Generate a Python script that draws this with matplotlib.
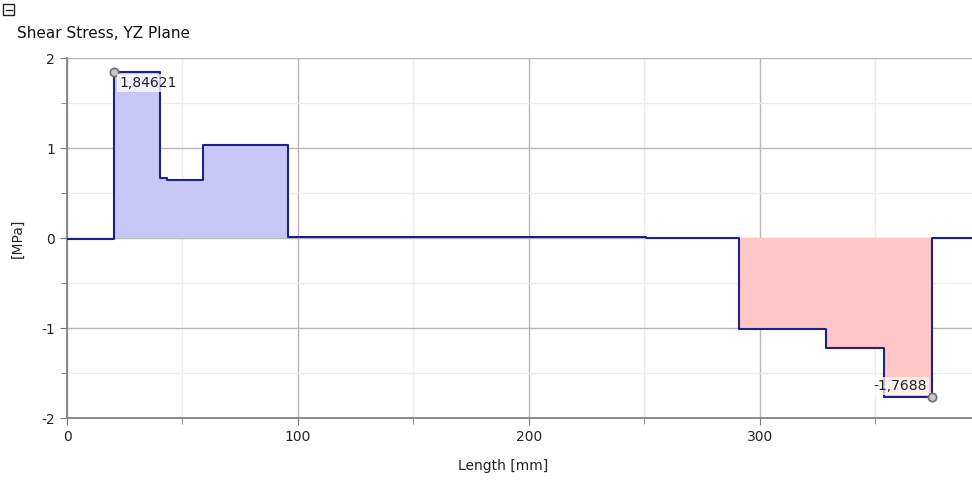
import numpy as np
import matplotlib
matplotlib.use("Agg")
import matplotlib.pyplot as plt
from matplotlib.patches import Rectangle
from matplotlib.lines import Line2D
from matplotlib.ticker import MultipleLocator

# Data (step function: segment edges and values)
edges = [0, 20.3, 40.3, 43.3, 58.9, 95.7, 250.6, 290.9, 328.6, 353.7, 374.5, 392]
values = [-0.015, 1.84621, 0.67, 0.65, 1.03, 0.01, 0.0, -1.01, -1.22, -1.7688, 0.0]
max_point = (20.3, 1.84621)
min_point = (374.5, -1.7688)
max_label = "1,84621"
min_label = "-1,7688"
x_ticks = [0, 100, 200, 300]
y_ticks = [-2, -1, 0, 1, 2]

plt.rcParams['font.family'] = ['DejaVu Sans']
plt.rcParams['axes.unicode_minus'] = False
fig = plt.figure(figsize=(9.72, 4.8), dpi=100)
ax = fig.add_axes([67/972, 1-418/480, 1-67/972, 360/480])

x = np.array(edges)
v = np.array(values + [values[-1]])

pos = np.where(v > 0.05, v, 0)
neg = np.where(v < -0.05, v, 0)
ax.fill_between(x, pos, 0, step='post', color='#c8c8f8', lw=0, zorder=2)
ax.fill_between(x, neg, 0, step='post', color='#ffc6c6', lw=0, zorder=2)
ax.step(x, v, where='post', color='#20208a', lw=1.5, zorder=3)

ax.plot(*max_point, 'o', ms=6, mfc='#c8c8c8', mec='#6e6e6e', mew=1.2, zorder=5)
ax.plot(*min_point, 'o', ms=6, mfc='#c8c8c8', mec='#6e6e6e', mew=1.2, zorder=5)

bbox = dict(boxstyle='square,pad=0.15', fc='white', ec='none', alpha=0.75)
ax.annotate(max_label, xy=max_point, xytext=(4, -3), textcoords='offset points',
            ha='left', va='top', fontsize=10, color='#222222', bbox=bbox, zorder=6)
ax.annotate(min_label, xy=min_point, xytext=(-4, 3), textcoords='offset points',
            ha='right', va='bottom', fontsize=10, color='#222222', bbox=bbox, zorder=6)

ax.set_xlim(0, 391.8)
ax.set_ylim(-2, 2)
ax.set_xticks(x_ticks)
ax.set_yticks(y_ticks)
ax.xaxis.set_minor_locator(MultipleLocator(50))
ax.yaxis.set_minor_locator(MultipleLocator(0.5))
ax.grid(which='major', color='#b8b8b8', lw=1.0, zorder=0)
ax.grid(which='minor', color='#ececec', lw=1.0, zorder=0)
ax.set_axisbelow(True)

for s in ['top', 'right']:
    ax.spines[s].set_visible(False)
for s in ['left', 'bottom']:
    ax.spines[s].set_color('#7a7a7a')
    ax.spines[s].set_linewidth(1.2)

ax.tick_params(which='major', length=5, color='#7a7a7a', labelsize=10, labelcolor='#222222')
ax.tick_params(which='minor', length=4, color='#7a7a7a')

ax.set_xlabel('Length [mm]', fontsize=10, color='#222222')
ax.xaxis.set_label_coords(0.482, -0.115)
ax.set_ylabel('[MPa]', fontsize=10, color='#222222')
ax.yaxis.set_label_coords(-0.047, 0.5)

fig.text(17/972, 1-33/480, 'Shear Stress, YZ Plane', fontsize=11, color='#111111',
         ha='left', va='center')

# collapse icon
fig.patches.append(Rectangle((3/972, 1-15/480), 11/972, 11/480, transform=fig.transFigure,
                             fill=False, ec='#222222', lw=1.0))
fig.lines.append(Line2D([5.5/972, 11.5/972], [1-9.5/480, 1-9.5/480], transform=fig.transFigure,
                        color='#222222', lw=1.0))

fig.savefig('out.png', dpi=100)
